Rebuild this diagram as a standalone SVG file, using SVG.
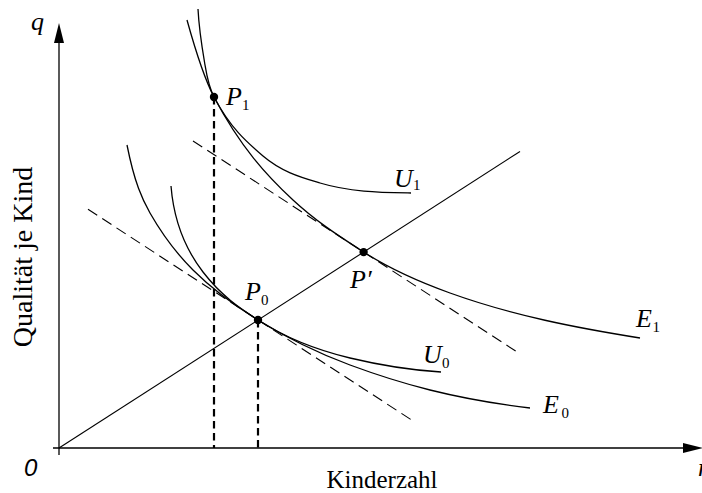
<svg xmlns="http://www.w3.org/2000/svg" width="702" height="493" viewBox="0 0 702 493">
<style>
.crv{fill:none;stroke:#000;stroke-width:1.3}
.ray{fill:none;stroke:#000;stroke-width:1.1}
.tan{fill:none;stroke:#000;stroke-width:1.1;stroke-dasharray:11 6}
.vd{fill:none;stroke:#000;stroke-width:2.2;stroke-dasharray:7.5 4.5}
.ax{fill:none;stroke:#000;stroke-width:1.3}
.lbl{font-family:"Liberation Serif","Times New Roman",serif;font-style:italic;font-size:26px;fill:#000}
.sub{font-family:"Liberation Serif","Times New Roman",serif;font-size:15px;fill:#000}
.tx{font-family:"Liberation Serif","Times New Roman",serif;fill:#000}
.dot{fill:#000}
</style>
<g id="axes">
<line class="ax" x1="59" y1="455" x2="59" y2="40"/>
<path d="M59,23 L64,43 L54,43 Z" fill="#000"/>
<line class="ax" x1="53" y1="448" x2="686" y2="448"/>
<path d="M703,448 L683,443 L683,453 Z" fill="#000"/>
<text class="lbl" x="31" y="30">q</text>
<text x="24" y="476" font-family="Liberation Sans, Arial, sans-serif" font-style="italic" font-size="24">0</text>
<text class="lbl" x="698" y="476">n</text>
<text class="tx" x="382" y="488" font-size="25" text-anchor="middle">Kinderzahl</text>
<text class="tx" transform="translate(32,257) rotate(-90)" font-size="28" text-anchor="middle">Qualität je Kind</text>
</g>
<g id="connectors">
<line class="ray" x1="59" y1="448" x2="520" y2="151.5"/>
<line class="tan" x1="193" y1="141" x2="520" y2="353.9"/>
<line class="tan" x1="88" y1="209.3" x2="415" y2="422.2"/>
<line class="vd" x1="214" y1="97" x2="214" y2="448"/>
<line class="vd" x1="258" y1="320" x2="258" y2="448"/>
<path id="E1" class="crv" d="M187,20 C196,52.4 205,79.9 214,97 C240.33,147.03 266.67,175.51 293,200 C316,221.39 339,236.05 362,251 C391.33,270.07 420.67,282.44 450,293 C513.33,315.8 576.67,327.87 640,338"/>
<path id="U1" class="crv" d="M198,9 C198.9,26.67 201.5,44.33 204.5,62 C206.5,73.67 207.9,85.33 214,97 C230.33,128.03 246.67,142.12 263,156 C282,172.15 301,177.3 320,183 C350.33,192.1 380.67,192.39 411,193"/>
<path id="E0" class="crv" d="M127,145 C134.67,183.33 142.33,199.58 150,213 C164.33,238.08 178.67,255.67 193,270 C214.67,291.67 236.33,306.57 258,320 C288.67,339.01 319.33,353.65 350,365 C376.67,374.87 403.33,383.33 430,390 C463.33,398.33 496.67,404 530,408"/>
<path id="U0" class="crv" d="M171,186 C173.3,214.67 180.9,243.33 203,272 C221.33,295.83 239.67,308.07 258,320 C288.67,339.96 319.33,350.64 350,358 C380.33,365.28 410.67,370.18 441,372"/>
</g>
<g id="node-P1">
<circle class="dot" cx="214" cy="97" r="4.2"/>
<text class="lbl" x="226" y="105">P</text><text class="sub" x="242" y="110">1</text>
</g>
<g id="node-P0">
<circle class="dot" cx="258" cy="320" r="4.2"/>
<text class="lbl" x="245" y="300">P</text><text class="sub" x="261" y="305">0</text>
</g>
<g id="node-Pprime">
<circle class="dot" cx="363.6" cy="252.1" r="4.2"/>
<text class="lbl" x="350" y="288">P′</text>
</g>
<g id="label-U1"><text class="lbl" x="394" y="187">U</text><text class="sub" x="413" y="190">1</text></g>
<g id="label-U0"><text class="lbl" x="423" y="363">U</text><text class="sub" x="442" y="368">0</text></g>
<g id="label-E1"><text class="lbl" x="636" y="327">E</text><text class="sub" x="652.5" y="332">1</text></g>
<g id="label-E0"><text class="lbl" x="543" y="413">E</text><text class="sub" x="561.5" y="418">0</text></g>
</svg>
